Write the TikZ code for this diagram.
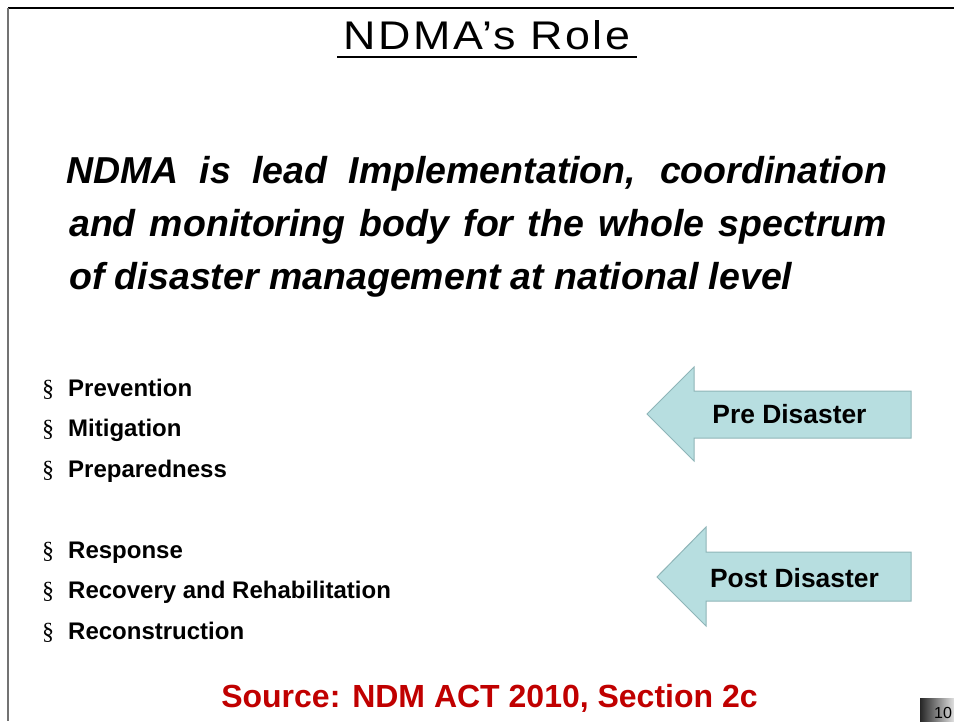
\documentclass[tikz,border=0pt]{standalone}
\usepackage{fontspec}
\setmainfont{Liberation Sans}
\newfontfamily\titlefont[FakeStretch=1.12, LetterSpace=6]{Liberation Sans}
\newfontfamily\bulletfont{Liberation Serif}
\definecolor{arrowfill}{HTML}{B7DEE0}
\definecolor{arrowline}{HTML}{8FB5B8}
\definecolor{sourcered}{HTML}{C00000}

\begin{document}
\begin{tikzpicture}[x=1pt, y=-1pt,
    roleline/.style={anchor=base west, inner sep=0pt, font=\fontsize{37.5}{53}\selectfont\bfseries\itshape},
    bullet/.style={anchor=base west, inner sep=0pt, font=\bulletfont\fontsize{24}{28}\selectfont},
    item/.style={anchor=base west, inner sep=0pt, font=\fontsize{24}{28}\selectfont\bfseries},
    stagearrow/.style={draw=arrowline, fill=arrowfill, line width=1pt, line join=miter},
    stagelabel/.style={anchor=base, inner sep=0pt, font=\fontsize{26.4}{30}\selectfont\bfseries}]
    \useasboundingbox (0,0) rectangle (954,721);

    % Frame
    \draw[line width=1.5pt] (8,8) -- (954,8);
    \draw[line width=1.5pt, black!55] (8,8) -- (8,721);

    % Title
    \node[anchor=base, inner sep=0pt, font=\titlefont\fontsize{40}{48}\selectfont] (title) at (487,49) {NDMA’s Role};
    \draw[line width=2pt] (337,56.5) -- (637,56.5);

    % Statement
    \node[roleline] (role1) at (66,183) {\makebox[821pt][s]{NDMA is lead Implementation, coordination}};
    \node[roleline] (role2) at (69,236) {\makebox[818pt][s]{and monitoring body for the whole spectrum}};
    \node[roleline] (role3) at (69,289) {of disaster management at national level};

    % Pre disaster phases
    \node[bullet] (b1) at (42,396) {§};
    \node[item] (i1) at (68,396) {Prevention};
    \node[bullet] (b2) at (42,436.5) {§};
    \node[item] (i2) at (68,436.5) {Mitigation};
    \node[bullet] (b3) at (42,477) {§};
    \node[item] (i3) at (68,477) {Preparedness};

    % Post disaster phases
    \node[bullet] (b4) at (42,558) {§};
    \node[item] (i4) at (68,558) {Response};
    \node[bullet] (b5) at (42,598.5) {§};
    \node[item] (i5) at (68,598.5) {Recovery and Rehabilitation};
    \node[bullet] (b6) at (42,639) {§};
    \node[item] (i6) at (68,639) {Reconstruction};

    % Arrows
    \draw[stagearrow] (911,391) -- (694,391) -- (694,367) -- (647,414) -- (694,461) -- (694,438) -- (911,438) -- cycle;
    \node[stagelabel] (pre) at (789.5,423) {Pre Disaster};
    \draw[stagearrow] (911,552) -- (706,552) -- (706,527) -- (657,577) -- (706,626) -- (706,601) -- (911,601) -- cycle;
    \node[stagelabel] (post) at (794.5,587) {Post Disaster};

    % Source
    \node[anchor=base, inner sep=0pt, text=sourcered, font=\fontsize{32}{38}\selectfont\bfseries] (source) at (489.5,707) {Source: NDM ACT 2010, Section 2c};

    % Page number
    \shade[left color=black!85, right color=black!12] (920,698) rectangle (954,721);
    \node[anchor=base, inner sep=0pt, font=\fontsize{16}{18}\selectfont] (page) at (943,718) {10};
\end{tikzpicture}
\end{document}
